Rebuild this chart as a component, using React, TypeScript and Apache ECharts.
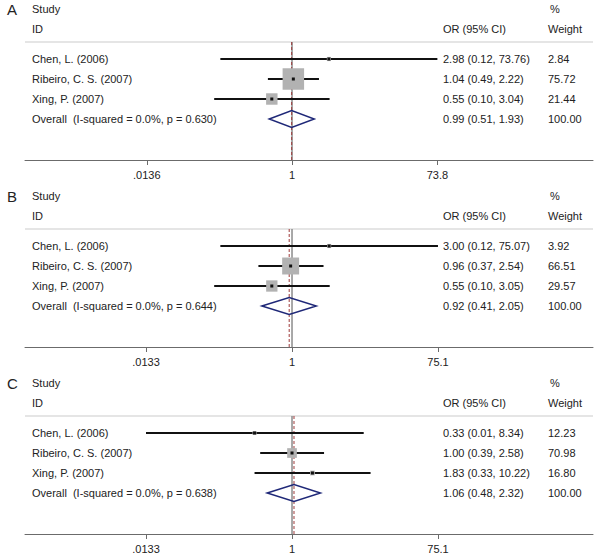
import React, { useEffect, useRef } from "react";
import * as echarts from "echarts";

// ---------- data ----------
const panelLetters = ["A", "B", "C"];
const studyNames = ["Chen, L. (2006)", "Ribeiro, C. S. (2007)", "Xing, P. (2007)"];

const orA = [2.98, 1.04, 0.55];
const loA = [0.12, 0.49, 0.1];
const hiA = [73.76, 2.22, 3.04];
const weightA = [2.84, 75.72, 21.44];
const overallA = [0.99, 0.51, 1.93];
const hetA = "Overall  (I-squared = 0.0%, p = 0.630)";
const tickValsA = [0.0136, 1, 73.8];
const tickLabelsA = [".0136", "1", "73.8"];

const orB = [3.0, 0.96, 0.55];
const loB = [0.12, 0.37, 0.1];
const hiB = [75.07, 2.54, 3.05];
const weightB = [3.92, 66.51, 29.57];
const overallB = [0.92, 0.41, 2.05];
const hetB = "Overall  (I-squared = 0.0%, p = 0.644)";
const tickValsB = [0.0133, 1, 75.1];
const tickLabelsB = [".0133", "1", "75.1"];

const orC = [0.33, 1.0, 1.83];
const loC = [0.0133, 0.39, 0.33];
const hiC = [8.34, 2.58, 10.22];
const weightC = [12.23, 70.98, 16.8];
const overallC = [1.06, 0.48, 2.32];
const hetC = "Overall  (I-squared = 0.0%, p = 0.638)";
const tickValsC = [0.0133, 1, 75.1];
const tickLabelsC = [".0133", "1", "75.1"];

const panels = [
  { or: orA, lo: loA, hi: hiA, w: weightA, overall: overallA, het: hetA, ticks: tickValsA, tickLabels: tickLabelsA },
  { or: orB, lo: loB, hi: hiB, w: weightB, overall: overallB, het: hetB, ticks: tickValsB, tickLabels: tickLabelsB },
  { or: orC, lo: loC, hi: hiC, w: weightC, overall: overallC, het: hetC, ticks: tickValsC, tickLabels: tickLabelsC },
];

// ---------- layout / style ----------
const FONT = '"Liberation Sans", Arial, Helvetica, sans-serif';
const TEXT = "#222";
const GRID_LEFT = 25;
const GRID_WIDTH = 568;
const X_MIN = -7.9;
const X_MAX = 8.905;
const ROW_H = 20;
const firstRowY = [59, 246, 433];
const Y_MIN = -2.9;
const Y_MAX = 5.05;
const boxScale = [2.47, 2.08, 1.15];
const COL_NAME = 32;
const COL_OR = 443;
const COL_W = 548;
const COL_PCT = 550;

const L = Math.log;
const f2 = (v: number) => v.toFixed(2);

function txt(x: number, y: number, text: string, size = 11, align = "left") {
  return {
    type: "text",
    x,
    y,
    style: {
      text,
      fill: TEXT,
      fontSize: size,
      fontFamily: FONT,
      align,
      verticalAlign: "middle",
      textAlign: align,
      textVerticalAlign: "middle",
    },
  };
}

function buildOption() {
  const grid: any[] = [];
  const xAxis: any[] = [];
  const yAxis: any[] = [];
  const series: any[] = [];
  const graphic: any[] = [];

  panels.forEach((p, i) => {
    const top = firstRowY[i] + Y_MIN * ROW_H;
    grid.push({ left: GRID_LEFT, width: GRID_WIDTH, top, height: (Y_MAX - Y_MIN) * ROW_H });
    const logTicks = p.ticks.map(L);
    xAxis.push({
      type: "value",
      gridIndex: i,
      min: X_MIN,
      max: X_MAX,
      splitLine: { show: false },
      axisLine: { show: true, onZero: false, lineStyle: { color: "#6b6b6b", width: 1 } },
      axisTick: { show: true, length: 5, customValues: logTicks, lineStyle: { color: "#6b6b6b" } },
      axisLabel: {
        show: true,
        customValues: logTicks,
        margin: 9,
        color: TEXT,
        fontSize: 11,
        fontFamily: FONT,
        formatter: (v: number) => {
          let best = 0;
          logTicks.forEach((t, k) => {
            if (Math.abs(t - v) < Math.abs(logTicks[best] - v)) best = k;
          });
          return p.tickLabels[best];
        },
      },
    });
    yAxis.push({ type: "value", gridIndex: i, inverse: true, min: Y_MIN, max: Y_MAX, show: false });

    // frame: headers, separator, reference lines, overall row
    series.push({
      type: "custom",
      xAxisIndex: i,
      yAxisIndex: i,
      clip: false,
      silent: true,
      data: [[L(p.overall[0]), 3, L(p.overall[1]), L(p.overall[2])]],
      renderItem: (params: any, api: any) => {
        const est = api.value(0);
        const row = api.value(1);
        const sepL = api.coord([X_MIN, -0.85]);
        const sepR = api.coord([X_MAX, -0.85]);
        const nullTop = api.coord([0, -0.85]);
        const nullBot = api.coord([0, Y_MAX]);
        const dTop = api.coord([est, -0.85]);
        const dBot = api.coord([est, Y_MAX]);
        const c = api.coord([est, row]);
        const dl = api.coord([api.value(2), row]);
        const dr = api.coord([api.value(3), row]);
        const yS = api.coord([0, -2.5])[1];
        const yI = api.coord([0, -1.5])[1];
        const hh = 8.5;
        return {
          type: "group",
          children: [
            { type: "line", shape: { x1: sepL[0], y1: sepL[1], x2: sepR[0], y2: sepR[1] }, style: { stroke: "#dcdcdc", lineWidth: 1.5 } },
            { type: "line", shape: { x1: nullTop[0], y1: nullTop[1], x2: nullBot[0], y2: nullBot[1] }, style: { stroke: "#8c8c8c", lineWidth: 1.5 } },
            { type: "line", shape: { x1: dTop[0], y1: dTop[1], x2: dBot[0], y2: dBot[1] }, style: { stroke: "#9e3b3b", lineWidth: 1, lineDash: [3, 2] } },
            {
              type: "polygon",
              shape: { points: [[dl[0], c[1]], [c[0], c[1] - hh], [dr[0], c[1]], [c[0], c[1] + hh]] },
              style: { fill: "none", stroke: "#1f2878", lineWidth: 1.5 },
              z2: 10,
            },
            txt(COL_NAME, yS, "Study"),
            txt(COL_NAME, yI, "ID"),
            txt(COL_OR, yI, "OR (95% CI)"),
            txt(COL_PCT, yS, "%"),
            txt(COL_W, yI, "Weight"),
            txt(COL_NAME, c[1], p.het),
            txt(COL_OR, c[1], `${f2(p.overall[0])} (${f2(p.overall[1])}, ${f2(p.overall[2])})`),
            txt(COL_W, c[1], "100.00"),
          ],
        };
      },
    });

    // individual studies
    series.push({
      type: "custom",
      xAxisIndex: i,
      yAxisIndex: i,
      clip: false,
      silent: true,
      z: 3,
      data: p.or.map((v, j) => [L(v), j, L(p.lo[j]), L(p.hi[j]), p.w[j], j]),
      renderItem: (params: any, api: any) => {
        const row = api.value(1);
        const c = api.coord([api.value(0), row]);
        const lo = api.coord([api.value(2), row]);
        const hi = api.coord([api.value(3), row]);
        const side = boxScale[i] * Math.sqrt(api.value(4));
        const j = api.value(5);
        return {
          type: "group",
          children: [
            { type: "line", shape: { x1: lo[0], y1: lo[1], x2: hi[0], y2: hi[1] }, style: { stroke: "#111", lineWidth: 2 } },
            { type: "rect", shape: { x: c[0] - side / 2, y: c[1] - side / 2, width: side, height: side }, style: { fill: "#b2b2b2" } },
            { type: "rect", shape: { x: c[0] - 1.5, y: c[1] - 1.5, width: 3, height: 3 }, style: { fill: "#111" } },
            txt(COL_NAME, c[1], studyNames[j]),
            txt(COL_OR, c[1], `${f2(p.or[j])} (${f2(p.lo[j])}, ${f2(p.hi[j])})`),
            txt(COL_W, c[1], f2(p.w[j])),
          ],
        };
      },
    });

    graphic.push({
      type: "text",
      left: 7,
      top: firstRowY[i] - 49 - 8,
      style: { text: panelLetters[i], fill: TEXT, fontSize: 15, fontFamily: FONT },
    });
  });

  return { animation: false, backgroundColor: "#fff", grid, xAxis, yAxis, series, graphic };
}

export default function App() {
  const ref = useRef<HTMLDivElement>(null);
  useEffect(() => {
    document.body.style.margin = "0";
    if (!ref.current) return;
    const chart = echarts.init(ref.current, null, { renderer: "svg" });
    chart.setOption(buildOption() as any);
    return () => chart.dispose();
  }, []);
  return <div ref={ref} style={{ width: 600, height: 557 }} />;
}
